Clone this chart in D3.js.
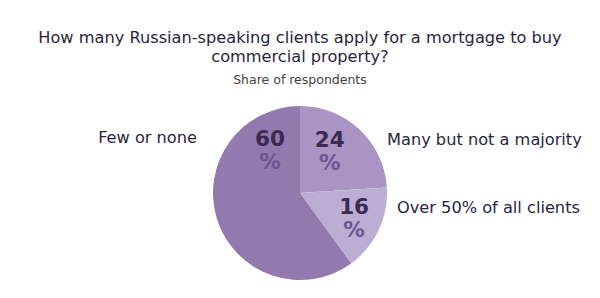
<!DOCTYPE html>
<html>
<head>
<meta charset="utf-8">
<script src="https://cdn.jsdelivr.net/npm/d3@7"></script>
<style>
  html, body { margin: 0; padding: 0; background: #fff; }
  svg { display: block; font-family: "DejaVu Sans", Tahoma, sans-serif; }
</style>
</head>
<body>
<div id="chart"></div>
<script>
// Data
const categories = ['Many but not a majority', 'Over 50% of all clients', 'Few or none'];
const shares = [24, 16, 60];
const titleLines = ['How many Russian-speaking clients apply for a mortgage to buy', 'commercial property?'];
const subtitle = 'Share of respondents';

const W = 600, H = 298;
const CX = 300, CY = 193, R = 87;
const COLORS = ['#a994c4', '#bcadd3', '#9279ae'];

const svg = d3.select('#chart').append('svg')
  .attr('width', W).attr('height', H);

// Title
svg.selectAll('.title')
  .data(titleLines)
  .join('text')
    .attr('class', 'title')
    .attr('x', W / 2)
    .attr('y', (d, i) => 43 + i * 19)
    .attr('text-anchor', 'middle')
    .style('font-size', '16.2px')
    .style('fill', '#2a1f3d')
    .text(d => d);

svg.append('text')
  .attr('x', W / 2).attr('y', 84)
  .attr('text-anchor', 'middle')
  .style('font-size', '12.5px')
  .style('fill', '#444')
  .text(subtitle);

// Pie
const pie = d3.pie().sort(null).value(d => d);
const arcs = pie(shares);
const arc = d3.arc().innerRadius(0).outerRadius(R);

const g = svg.append('g').attr('transform', `translate(${CX},${CY})`);

g.selectAll('path')
  .data(arcs)
  .join('path')
    .attr('d', arc)
    .attr('fill', (d, i) => COLORS[i]);

// value labels: angle along the slice (fraction), radius
const LABEL_POS = [
  { frac: 0.38, r: 55 },
  { frac: 0.43, r: 58 },
  { frac: 0.85, r: 56 }
];

const lbl = g.selectAll('.val')
  .data(arcs)
  .join('g')
    .attr('class', 'val')
    .attr('transform', (d, i) => {
      const p = LABEL_POS[i];
      const a = d.startAngle + (d.endAngle - d.startAngle) * p.frac;
      return `translate(${Math.sin(a) * p.r},${-Math.cos(a) * p.r})`;
    });

lbl.append('text')
  .attr('text-anchor', 'middle')
  .style('font-size', '21.5px').style('font-weight', 'bold')
  .style('fill', '#3b2a52')
  .text(d => d.data);

lbl.append('text')
  .attr('text-anchor', 'middle')
  .attr('y', 23)
  .style('font-size', '21.5px').style('font-weight', 'bold')
  .style('fill', '#6c5690')
  .text('%');

// Category labels
const CAT_POS = [
  { x: 387, y: 145, anchor: 'start' },
  { x: 397, y: 213, anchor: 'start' },
  { x: 197, y: 143, anchor: 'end' }
];

svg.selectAll('.cat')
  .data(categories)
  .join('text')
    .attr('class', 'cat')
    .attr('x', (d, i) => CAT_POS[i].x)
    .attr('y', (d, i) => CAT_POS[i].y)
    .attr('text-anchor', (d, i) => CAT_POS[i].anchor)
    .style('font-size', '16.2px')
    .style('fill', '#2a1f3d')
    .text(d => d);
</script>
</body>
</html>
